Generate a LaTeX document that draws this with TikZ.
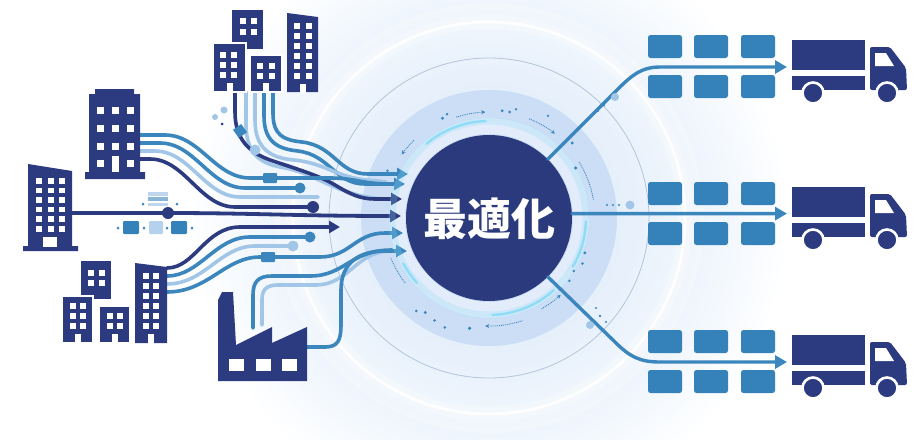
\documentclass[tikz,border=0pt]{standalone}
\usepackage{fontspec}
\newfontfamily\jpfont{Noto Sans CJK JP}
\usetikzlibrary{arrows.meta}
\definecolor{bnavy}{HTML}{2C3A80}
\definecolor{boxb}{HTML}{3482B9}
\definecolor{lineb}{HTML}{3A86BD}
\definecolor{lightb}{HTML}{A2C6E8}
\definecolor{hubnavy}{HTML}{2B3A7C}
\definecolor{glowc}{HTML}{C4DCF6}
\definecolor{discc}{HTML}{CBDEF6}
\definecolor{ringc}{HTML}{B3C5DB}
\definecolor{cyanc}{HTML}{8EDCF6}
\tikzset{
  flow/.style={line width=3.6pt, line cap=round, line join=round},
  tipA/.style={-{Triangle[length=11pt,width=12pt]}},
  tipR/.style={-{Triangle[length=12pt,width=13pt]}},
  bld/.style={fill=bnavy},
  bldsep/.style={fill=bnavy, draw=white, line width=1.5pt},
  win/.style={fill=white},
  orbit/.style={densely dotted, line width=0.9pt, lineb, -{Stealth[length=4pt,width=4pt]}},
  orbitplain/.style={densely dotted, line width=0.9pt, lineb},
  cyanarc/.style={cyanc, line width=2.4pt, line cap=round},
  dotn/.style={circle, fill=#1, inner sep=0pt},
  chip/.style={fill=#1, rounded corners=1.2pt},
  cargo/.style={fill=boxb, rounded corners=2.5pt}
}
\begin{document}
\begin{tikzpicture}[x=1pt,y=-1pt]
\useasboundingbox (0,0) rectangle (923,439);
\coordinate (C) at (489,218);

% ---------- background glow and rings ----------
\begin{scope}
  \clip (0,0) rectangle (923,439);
  \fill[white] (0,0) rectangle (923,439);
  \shade[inner color=glowc, outer color=white] (C) circle (300);
  \fill[white, opacity=.25] (C) circle (215);
  \draw[white, line width=14pt, opacity=.3] (C) circle (196);
  \draw[white, line width=2.8pt, opacity=.95] (C) circle (196);
  \draw[ringc, line width=.8pt] (C) circle (160);
  \fill[discc] (C) circle (128);
  \draw[white, line width=16pt, opacity=.45] (C) circle (92);
\end{scope}

% ---------- arrow targets around the hub ----------
\coordinate (a1) at (408,174);
\coordinate (a2) at (405,184);
\coordinate (a3) at (402,199);
\coordinate (a4) at (401,216);
\coordinate (a5) at (403,233);
\coordinate (a6) at (407,251);

% ---------- streams from the upper cluster ----------
\draw[flow, lineb, tipA] (273,92) -- (273,113) .. controls (273,135) and (283,140) .. (302,142)
      .. controls (335,146) and (338,174) .. (368,174) -- (a1);
\draw[flow, lineb, tipA] (264,92) -- (264,116) .. controls (264,142) and (278,149) .. (298,151)
      .. controls (330,155) and (335,184) .. (365,184) -- (a2);
\draw[flow, lightb] (255,92) -- (255,120) .. controls (255,150) and (272,158) .. (294,160)
      .. controls (325,163) and (338,178) .. (368,180) -- (386,182);
\draw[flow, lightb] (246,92) -- (246,124) .. controls (246,156) and (262,164) .. (285,168)
      .. controls (318,174) and (340,198) .. (388,199);
\draw[flow, bnavy, tipA] (235,92) -- (235,112) .. controls (235,138) and (248,152) .. (270,160)
      .. controls (300,170) and (320,176) .. (335,185) .. controls (350,194) and (360,199) .. (375,199) -- (a3);
\fill[lineb, rotate around={35:(240,131)}] (235,126) rectangle (245,136);
\node[dotn=lightb, minimum size=11pt] (tc1) at (255,150) {};
\node[dotn=lightb, minimum size=6pt] (tc2) at (215,117) {};
\node[dotn=lightb, minimum size=7pt] (tc3) at (224,110) {};
\node[dotn=bnavy, minimum size=3pt] (tc4) at (222,124) {};

% ---------- streams from the mid-left tower ----------
\draw[flow, lineb] (140,135) -- (165,135) .. controls (200,135) and (215,178) .. (250,178) -- (330,178)
      .. controls (355,178) and (362,184) .. (390,184);
\fill[lineb, rounded corners=1pt] (263,173) rectangle (277,183);
\draw[flow, lineb] (140,143) -- (160,143) .. controls (195,143) and (210,188) .. (245,188) -- (300,188);
\node[dotn=lineb, minimum size=11pt] (mc1) at (300,188) {};
\draw[flow, lightb] (140,151) -- (155,151) .. controls (190,151) and (205,197) .. (240,197) -- (318,197);
\draw[flow, bnavy] (140,159) -- (150,159) .. controls (185,159) and (200,207) .. (235,207) -- (313,207);
\node[dotn=bnavy, minimum size=12pt] (mc2) at (313,207) {};

% ---------- main line from the tall tower ----------
\draw[flow, bnavy, line width=3.8pt, tipA] (72,213) -- (168,213) .. controls (250,213) and (300,216) .. (a4);
\node[dotn=bnavy, minimum size=12pt] (hubdot) at (168,213) {};
\fill[lightb!70] (148,192) rectangle (168,195.5);
\fill[lineb!60] (148,197.3) rectangle (168,200.8);
\fill[lightb!70] (148,202.6) rectangle (168,206);
\foreach \x in {143,177} \fill[lineb] (\x,204) circle (1.5);
\fill[chip=boxb] (123,221) rectangle (139,234);
\fill[chip=lightb!80] (149,221) rectangle (163,234);
\fill[chip=boxb] (171,221) rectangle (187,234);
\foreach \x in {118,144,167,192} \fill[lineb] (\x,228) circle (1.5);

% ---------- streams from the lower cluster ----------
\draw[flow, bnavy, tipA] (167,268) .. controls (195,268) and (205,227) .. (240,227) -- (340,227);
\draw[flow, lineb] (167,276) .. controls (200,276) and (215,237) .. (250,237) -- (306,237);
\node[dotn=lineb, minimum size=11pt] (bc1) at (310,237) {};
\draw[flow, lightb] (167,284) .. controls (205,284) and (220,246) .. (255,246) -- (290,246);
\node[dotn=lightb, minimum size=11pt] (bc2) at (293,246) {};
\draw[flow, lineb, tipA] (167,292) .. controls (208,292) and (225,257) .. (260,257) -- (320,257)
      .. controls (350,257) and (355,233) .. (385,233) -- (a5);
\fill[lineb, rounded corners=1pt] (261,252) rectangle (275,262);

% ---------- streams from the factory ----------
\draw[flow, lightb] (262,325) -- (262,300) .. controls (262,290) and (266,285) .. (278,285) -- (315,285)
      .. controls (350,285) and (355,251) .. (392,251);
\draw[flow, lineb] (253,328) -- (253,295) .. controls (253,282) and (258,276) .. (272,276) -- (310,276)
      .. controls (345,276) and (350,250) .. (392,250);
\draw[flow, lineb, tipA] (307,347) -- (325,347) .. controls (338,347) and (341,340) .. (341,325) -- (341,290)
      .. controls (341,262) and (360,251) .. (385,251) -- (a6);

% ---------- buildings: upper cluster ----------
\fill[bld] (232,10) rectangle (263,49);
\foreach \x in {240,251} \foreach \y in {18,29} \fill[win] (\x,\y) rectangle ++(6,6);
\filldraw[bldsep] (213,43) rectangle (246,92);
\foreach \x in {220,231} \foreach \y in {52,62,72} \fill[win] (\x,\y) rectangle ++(6,6);
\fill[win] (226.5,83) rectangle (232.5,92.8);
\filldraw[bldsep] (250,55) rectangle (282,92);
\foreach \x in {257,269} \foreach \y in {63,73} \fill[win] (\x,\y) rectangle ++(6,6);
\fill[win] (263,83) rectangle (269,92.8);
\fill[bld] (287,13) -- (318,17) -- (318,92) -- (287,92) -- cycle;
\foreach \x in {294,306} \foreach \y in {23,33,43,53,63,73} \fill[win] (\x,\y) rectangle ++(5.5,5.5);
\fill[win] (299.5,84) rectangle (305.5,92.8);

% ---------- buildings: mid-left tower ----------
\fill[bld] (95,89) -- (134,89) -- (134,94) -- (140,94) -- (140,172) -- (145,172) -- (145,179)
      -- (85,179) -- (85,172) -- (89,172) -- (89,94) -- (95,94) -- cycle;
\foreach \x in {97,112,127} \foreach \y in {107,125,143} \fill[win] (\x,\y) rectangle ++(7,7);
\foreach \x in {97,127} \fill[win] (\x,160) rectangle ++(7,7);
\fill[win] (111.5,156) rectangle (118.5,172);

% ---------- buildings: tall tower ----------
\fill[bld] (28,164) -- (72,171) -- (72,246) -- (78,246) -- (78,251) -- (23,251) -- (23,246) -- (28,246) -- cycle;
\foreach \x in {36,48,59} \foreach \y in {178,187.6,197.2,206.8,216.4,226} \fill[win] (\x,\y) rectangle ++(5.5,5.5);
\fill[win] (43,237) rectangle (57,246.5);

% ---------- buildings: lower cluster ----------
\fill[bld] (81,261) rectangle (111,299);
\foreach \x in {88,99} \foreach \y in {270,280} \fill[win] (\x,\y) rectangle ++(6,5.5);
\filldraw[bldsep] (62,296) rectangle (93,343);
\foreach \x in {70,80} \foreach \y in {303,313,323} \fill[win] (\x,\y) rectangle ++(6,6);
\fill[win] (75,334) rectangle (81,343.8);
\filldraw[bldsep] (99,306) rectangle (130,343);
\foreach \x in {107,117} \foreach \y in {313,323} \fill[win] (\x,\y) rectangle ++(6,6);
\fill[win] (112,334) rectangle (118,343.8);
\fill[bld] (135,263) -- (167,267) -- (167,343) -- (135,343) -- cycle;
\foreach \x in {143,153} \foreach \y in {273,283,293,303,313,323} \fill[win] (\x,\y) rectangle ++(6,5.5);
\fill[win] (148,334) rectangle (154,343.8);

% ---------- factory ----------
\fill[bld] (218,381) -- (218,300) -- (222,292) -- (233,292) -- (236,345) -- (272,327) -- (272,343)
      -- (307,327) -- (307,381) -- cycle;
\foreach \x in {229,256,282} \fill[win] (\x,359) rectangle ++(15,12);

% ---------- hub ----------
\draw[cyanc, line width=7pt, opacity=.25] (C) circle (97);
\draw[cyanarc] (C) ++(230:97) arc[start angle=230, end angle=268, radius=97];
\draw[cyanarc] (C) ++(2:97) arc[start angle=2, end angle=30, radius=97];
\draw[cyanarc] (C) ++(48:97) arc[start angle=48, end angle=88, radius=97];
\draw[cyanarc] (C) ++(138:97) arc[start angle=138, end angle=152, radius=97];
\node[circle, fill=hubnavy, minimum size=166pt, inner sep=0pt] (hub) at (C) {};
\node[text=white, font=\jpfont\bfseries\fontsize{44pt}{44pt}\selectfont] (title) at (489,219) {最適化};

% dotted orbit marks
\draw[orbit] (C) ++(252:106) arc[start angle=252, end angle=268, radius=106];
\draw[orbit] (C) ++(292:107) arc[start angle=292, end angle=308, radius=107];
\draw[orbit] (C) ++(226:108) arc[start angle=226, end angle=216, radius=108];
\draw[orbit] (C) ++(60:105) arc[start angle=60, end angle=47, radius=105];
\draw[orbit] (C) ++(72:108) arc[start angle=72, end angle=92, radius=108];
\draw[orbitplain] (C) ++(-32:106) arc[start angle=-32, end angle=-10, radius=106];
\draw[orbitplain] (C) ++(158:106) arc[start angle=158, end angle=142, radius=106];
\foreach \a/\r/\s in {245/110/1.6, 248/112/1.4, 277/108/1.6, 281/108/1.6, 284/112/1.3, 300/118/1.3,
                       318/112/1.6, 330/100/1.8, 20/102/1.6, 26/104/1.4, 32/100/1.4, 38/102/1.4,
                       100/112/1.8, 112/118/1.4, 118/116/1.4, 124/114/1.6, 128/118/1.4, 205/112/1.4}
  \fill[lineb] (C) ++(\a:\r) circle (\s);

% ---------- outgoing routes ----------
\coordinate (r1) at (787,67);
\coordinate (r2) at (787,213.6);
\coordinate (r3) at (787,362);
\foreach \yy in {35,182,330} {
  \foreach \x in {648,694,741} {
    \fill[cargo] (\x,\yy) rectangle ++(34,23);
    \fill[cargo] (\x,\yy+40) rectangle ++(34,23);
  }
}
\draw[flow, lineb, line width=3.4pt, tipR] (hub.45) -- (615,92) .. controls (630,77) and (640,67) .. (660,67) -- (r1);
\draw[flow, lineb, line width=3.4pt, tipR] (hub.3) -- (r2);
\draw[flow, lineb, line width=3.4pt, tipR] (hub.-45) -- (615,342) .. controls (630,357) and (640,362) .. (660,362) -- (r3);
\node[dotn=lightb, minimum size=8pt] (rd1) at (615,97) {};
\fill[lineb] (604,105) circle (1.4) (598,111) circle (1.2);
\foreach \x in {607,613,619} \fill[lineb] (\x,205) circle (1.2);
\node[dotn=lightb, minimum size=9pt] (rd2) at (630,205) {};
\node[dotn=lightb, minimum size=8pt] (rd3) at (590,325) {};
\fill[lineb] (600,316) circle (1.3) (606,322) circle (1.2) (596,308) circle (1.2);

% ---------- trucks ----------
\foreach \yy in {35,182,330} {
  \fill[bnavy] (792,\yy+5) rectangle (865,\yy+35);
  \fill[bnavy] (792,\yy+41) rectangle (865,\yy+55);
  \fill[bnavy, rounded corners=2pt] (870,\yy+55) -- (870,\yy+12) -- (890,\yy+12) -- (906,\yy+33) -- (907,\yy+55) -- cycle;
  \fill[white] (875,\yy+18) -- (886,\yy+18) -- (894,\yy+31) -- (875,\yy+31) -- cycle;
  \filldraw[bnavy, draw=white, line width=2.6pt] (813,\yy+58) circle (10.5);
  \filldraw[bnavy, draw=white, line width=2.6pt] (887,\yy+58) circle (10.5);
}
\end{tikzpicture}
\end{document}
